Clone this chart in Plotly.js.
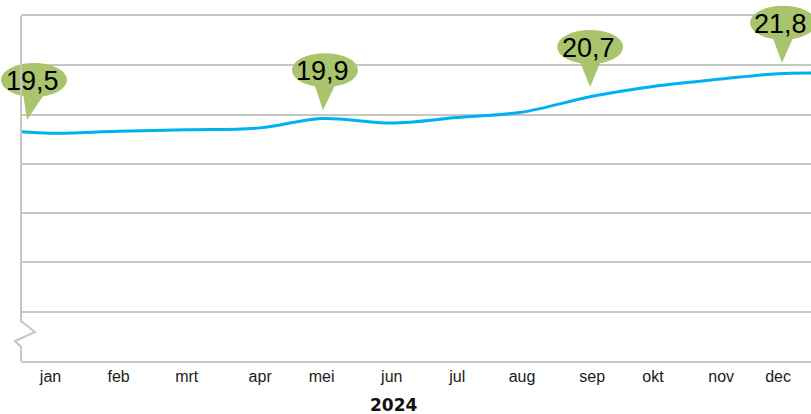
<!DOCTYPE html>
<html>
<head>
<meta charset="utf-8">
<script src="https://cdn.plot.ly/plotly-3.0.1.min.js"></script>
<style>
html, body { margin:0; padding:0; overflow:hidden; background:#fff; }
#chart { width:830px; height:414px; }
</style>
</head>
<body>
<div id="chart"></div>
<script>
// ---- data ----
var months = ['jan','feb','mrt','apr','mei','jun','jul','aug','sep','okt','nov','dec'];
var monthPos = [1.00, 2.03, 3.06, 4.17, 5.10, 6.16, 7.15, 8.13, 9.19, 10.11, 11.14, 12.00];
var monthVal = [18.62, 18.66, 18.69, 18.73, 18.92, 18.83, 18.94, 19.05, 19.37, 19.57, 19.72, 19.83];
var startX = 0.554, startY = 18.65;
var endX = 12.786, endY = 19.84;
var calloutLabels = ['19,5', '19,9', '20,7', '21,8'];
var calloutX = [0.645, 5.12, 9.16, 12.06];
var calloutY = [18.89, 19.09, 19.56, 20.05];
var xTitle = '2024';

// ---- styling ----
var xRange = [0.554, 12.786];
var yRange = [14, 21];
var gridCol = '#c6c6c6';
var green = '#a9c46c';
var calloutDx = [7, 2, 0, 1];

function px(v) { return (v - xRange[0]) / (xRange[1] - xRange[0]); }
function py(v) { return (v - yRange[0]) / (yRange[1] - yRange[0]); }

var lineX = [startX].concat(monthPos, [endX]);
var lineY = [startY].concat(monthVal, [endY]);

var shapes = [];
var annotations = [];
for (var i = 0; i < calloutLabels.length; i++) {
  var dx = calloutDx[i];
  var base = {xref:'paper', yref:'paper', xsizemode:'pixel', ysizemode:'pixel',
              xanchor: px(calloutX[i]), yanchor: py(calloutY[i]),
              fillcolor: green, line:{width:0}, layer:'above'};
  shapes.push(Object.assign({}, base, {type:'path',
      path: 'M' + (dx - 11) + ',27 L0,0 L' + (dx + 11) + ',27 Z'}));
  shapes.push(Object.assign({}, base, {type:'circle',
      x0: dx - 33, x1: dx + 33, y0: 23, y1: 57}));
  annotations.push({xref:'x', yref:'y', x: calloutX[i], y: calloutY[i],
      xshift: dx - 2, yshift: 39, showarrow:false, text: calloutLabels[i],
      font:{family:'Liberation Sans, Arial, sans-serif', size:27, color:'#000'}});
}
// left axis with break
shapes.push({type:'path', xref:'paper', yref:'paper', xsizemode:'pixel', ysizemode:'pixel',
  xanchor:0, yanchor:0, path:'M0,345 L0,40 L14,29 L-6,20 L0,14 L0,0',
  line:{color:gridCol, width:2}, layer:'above'});

annotations.push({xref:'paper', yref:'paper', x:0.461, y:0, yshift:-44, yanchor:'middle',
  showarrow:false, text:'<b>' + xTitle + '</b>',
  font:{family:'DejaVu Sans, sans-serif', size:17, color:'#111'}});

var trace = {
  x: lineX, y: lineY, type:'scatter', mode:'lines',
  line:{color:'#00b0f0', width:3, shape:'spline', smoothing:1},
  hoverinfo:'skip', cliponaxis:true
};

var layout = {
  width:830, height:414,
  margin:{l:21, r:0, t:16, b:53},
  paper_bgcolor:'#fff', plot_bgcolor:'#fff',
  showlegend:false,
  xaxis:{range:xRange, tickvals:monthPos, ticktext:months, showgrid:false, zeroline:false,
    showline:true, mirror:true, linecolor:gridCol, linewidth:2,
    ticks:'', ticklen:0,
    tickfont:{family:'Liberation Sans, Arial, sans-serif', size:16, color:'#1a1a1a'}},
  yaxis:{range:yRange, dtick:1, showgrid:true, gridcolor:gridCol, gridwidth:2,
    zeroline:false, showline:false, showticklabels:false, ticks:''},
  shapes: shapes,
  annotations: annotations
};

Plotly.newPlot('chart', [trace], layout, {staticPlot:true, displayModeBar:false});
</script>
</body>
</html>
